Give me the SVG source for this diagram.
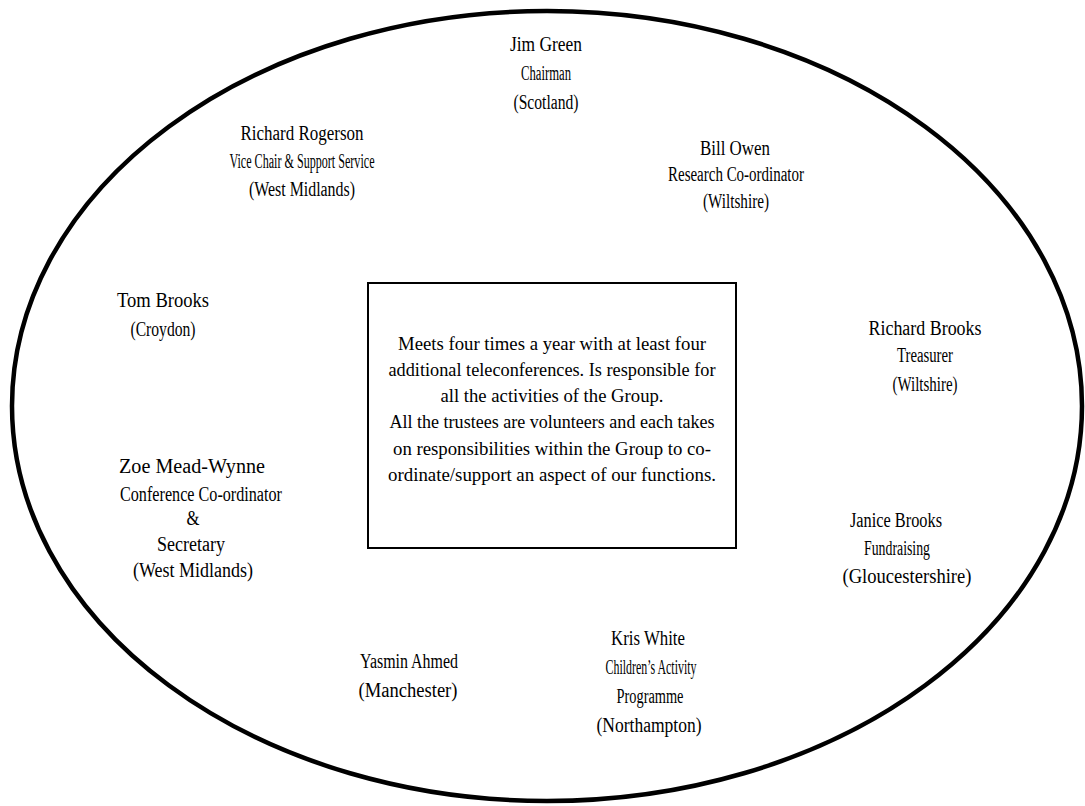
<svg xmlns="http://www.w3.org/2000/svg" width="1085" height="806" viewBox="0 0 1085 806">
<style>
text{font-family:"Liberation Serif","Times New Roman",serif;fill:#000;text-anchor:middle}
.n{font-size:20px}
.s{font-size:20px}
.b{font-size:19px}
</style>
<rect width="1085" height="806" fill="#fff"/>
<g id="outline"><ellipse cx="547" cy="406" rx="535" ry="395" fill="none" stroke="#000" stroke-width="4.5"/></g>
<g id="centre">
<rect x="368" y="283" width="368" height="265" fill="none" stroke="#000" stroke-width="2"/>
<text class="b" x="552" y="350" textLength="308" lengthAdjust="spacingAndGlyphs">Meets four times a year with at least four</text>
<text class="b" x="552" y="376" textLength="327" lengthAdjust="spacingAndGlyphs">additional teleconferences. Is responsible for</text>
<text class="b" x="552" y="402" textLength="223" lengthAdjust="spacingAndGlyphs">all the activities of the Group.</text>
<text class="b" x="552" y="428" textLength="325" lengthAdjust="spacingAndGlyphs">All the trustees are volunteers and each takes</text>
<text class="b" x="552" y="455" textLength="318" lengthAdjust="spacingAndGlyphs">on responsibilities within the Group to co-</text>
<text class="b" x="552" y="481" textLength="328" lengthAdjust="spacingAndGlyphs">ordinate/support an aspect of our functions.</text>
</g>
<g id="jim-green">
<text class="n" x="546" y="51" textLength="72" lengthAdjust="spacingAndGlyphs">Jim Green</text>
<text class="s" x="546" y="80" textLength="50" lengthAdjust="spacingAndGlyphs">Chairman</text>
<text class="s" x="546" y="109" textLength="65" lengthAdjust="spacingAndGlyphs">(Scotland)</text>
</g>
<g id="richard-rogerson">
<text class="n" x="302" y="140" textLength="123" lengthAdjust="spacingAndGlyphs">Richard Rogerson</text>
<text class="s" x="302" y="168" textLength="145" lengthAdjust="spacingAndGlyphs">Vice Chair &amp; Support Service</text>
<text class="s" x="302" y="196" textLength="106" lengthAdjust="spacingAndGlyphs">(West Midlands)</text>
</g>
<g id="bill-owen">
<text class="n" x="735" y="155" textLength="70" lengthAdjust="spacingAndGlyphs">Bill Owen</text>
<text class="s" x="736" y="181" textLength="136" lengthAdjust="spacingAndGlyphs">Research Co-ordinator</text>
<text class="s" x="736" y="208" textLength="66" lengthAdjust="spacingAndGlyphs">(Wiltshire)</text>
</g>
<g id="tom-brooks">
<text class="n" x="163" y="307" textLength="92" lengthAdjust="spacingAndGlyphs">Tom Brooks</text>
<text class="s" x="163" y="336" textLength="65" lengthAdjust="spacingAndGlyphs">(Croydon)</text>
</g>
<g id="richard-brooks">
<text class="n" x="925" y="335" textLength="113" lengthAdjust="spacingAndGlyphs">Richard Brooks</text>
<text class="s" x="925" y="362" textLength="56" lengthAdjust="spacingAndGlyphs">Treasurer</text>
<text class="s" x="925" y="391" textLength="65" lengthAdjust="spacingAndGlyphs">(Wiltshire)</text>
</g>
<g id="zoe-mead-wynne">
<text class="n" x="192" y="473" textLength="146" lengthAdjust="spacingAndGlyphs">Zoe Mead-Wynne</text>
<text class="s" x="201" y="501" textLength="162" lengthAdjust="spacingAndGlyphs">Conference Co-ordinator</text>
<text class="s" x="193" y="525" textLength="13" lengthAdjust="spacingAndGlyphs">&amp;</text>
<text class="s" x="191" y="551" textLength="68" lengthAdjust="spacingAndGlyphs">Secretary</text>
<text class="s" x="193" y="577" textLength="120" lengthAdjust="spacingAndGlyphs">(West Midlands)</text>
</g>
<g id="janice-brooks">
<text class="n" x="896" y="527" textLength="92" lengthAdjust="spacingAndGlyphs">Janice Brooks</text>
<text class="s" x="897" y="555" textLength="66" lengthAdjust="spacingAndGlyphs">Fundraising</text>
<text class="s" x="907" y="583" textLength="129" lengthAdjust="spacingAndGlyphs">(Gloucestershire)</text>
</g>
<g id="yasmin-ahmed">
<text class="n" x="409" y="668" textLength="98" lengthAdjust="spacingAndGlyphs">Yasmin Ahmed</text>
<text class="s" x="408" y="697" textLength="99" lengthAdjust="spacingAndGlyphs">(Manchester)</text>
</g>
<g id="kris-white">
<text class="n" x="648" y="645" textLength="74" lengthAdjust="spacingAndGlyphs">Kris White</text>
<text class="s" x="651" y="674" textLength="91" lengthAdjust="spacingAndGlyphs">Children’s Activity</text>
<text class="s" x="650" y="703" textLength="67" lengthAdjust="spacingAndGlyphs">Programme</text>
<text class="s" x="649" y="732" textLength="105" lengthAdjust="spacingAndGlyphs">(Northampton)</text>
</g>
</svg>
